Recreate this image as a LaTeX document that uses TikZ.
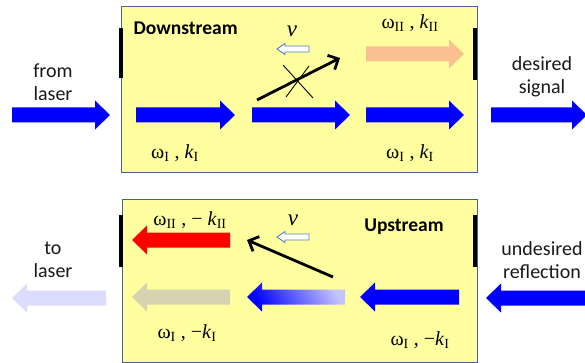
\documentclass[tikz,border=0pt]{standalone}
\usepackage{fontspec}
\setmainfont{Liberation Serif}
\newfontfamily\calib{Carlito}
\usetikzlibrary{arrows.meta}
\definecolor{boxfill}{RGB}{255,255,160}
\definecolor{boxline}{RGB}{70,100,145}
\definecolor{pblue}{RGB}{0,0,255}
\definecolor{porange}{RGB}{250,192,144}
\definecolor{pred}{RGB}{255,0,0}
\definecolor{pgray}{RGB}{215,211,176}
\definecolor{plav}{RGB}{220,220,255}
\definecolor{pgrad}{RGB}{195,195,255}
\definecolor{vline}{RGB}{79,129,189}
\newcommand\blockR[4]{\fill[#4] (#1,#3-7.5) -- (#2-15,#3-7.5) -- (#2-15,#3-14.5) -- (#2,#3) -- (#2-15,#3+14.5) -- (#2-15,#3+7.5) -- (#1,#3+7.5) -- cycle;}
\newcommand\blockL[4]{\fill[#4] (#2,#3-7.5) -- (#1+15,#3-7.5) -- (#1+15,#3-14.5) -- (#1,#3) -- (#1+15,#3+14.5) -- (#1+15,#3+7.5) -- (#2,#3+7.5) -- cycle;}
\newcommand\hollowL[3]{\draw[vline,fill=white,line width=0.9pt] (#2,#3-3) -- (#1+8,#3-3) -- (#1+8,#3-5.5) -- (#1,#3) -- (#1+8,#3+5.5) -- (#1+8,#3+3) -- (#2,#3+3) -- cycle;}
\tikzset{
  panel/.style={draw=boxline,fill=boxfill,line width=1pt},
  mirror/.style={line width=4pt,black},
  sidelbl/.style={font=\calib\fontsize{20}{23}\selectfont,align=center,text=black!90},
  headlbl/.style={font=\calib\bfseries\fontsize{19.5}{22}\selectfont},
  wlbl/.style={font=\fontsize{20}{22}\selectfont},
  vlbl/.style={font=\itshape\fontsize{23}{24}\selectfont},
  scat/.style={line width=2.8pt,-{Straight Barb[length=8pt,width=16pt,line width=2.8pt]}},
  cross/.style={line width=0.9pt}
}
\begin{document}
\begin{tikzpicture}[x=1pt,y=-1pt]
\useasboundingbox (0,0) rectangle (585,363);
% panels
\draw[panel] (121,7) rectangle (477,173);
\draw[panel] (122,199) rectangle (477,362);
\draw[mirror] (121,28) -- (121,78);
\draw[mirror] (475,28) -- (475,80);
\draw[mirror] (121,215) -- (121,267);
\draw[mirror] (475,215) -- (475,267);
% top arrows
\blockR{12}{110}{115}{pblue}
\blockR{136}{235}{115}{pblue}
\blockR{252}{350}{115}{pblue}
\blockR{366}{464}{115}{pblue}
\blockR{491}{587}{115}{pblue}
\blockR{366}{464}{54}{porange}
\hollowL{277}{309}{49}
% bottom arrows
\blockL{132}{230}{240}{pred}
\blockL{132}{230}{297}{pgray}
\shade[left color=pgrad,right color=pblue,shading angle=-60] (345,289.5) -- (262,289.5) -- (262,282.5) -- (247,297) -- (262,311.5) -- (262,304.5) -- (345,304.5) -- cycle;
\blockL{360}{459}{297}{pblue}
\blockL{12}{106}{298}{plav}
\blockL{486}{587}{298}{pblue}
\hollowL{277}{309}{237}
% scattering connectors
\coordinate (s1) at (257,100);
\coordinate (s2) at (340,58);
\draw[scat] (s1) -- (s2);
\coordinate (c1) at (283,65);
\coordinate (c2) at (313,98);
\coordinate (c3) at (286,97);
\coordinate (c4) at (309,66);
\draw[cross] (c1) -- (c2);
\draw[cross] (c3) -- (c4);
\coordinate (b1) at (333,277);
\coordinate (b2) at (247,240);
\draw[scat] (b1) -- (b2);
% labels
\node[headlbl,anchor=west] (down) at (130,28) {Downstream};
\node[headlbl] (up) at (404,227) {Upstream};
\node[vlbl] (v1) at (292,31) {v};
\node[vlbl] (v2) at (293,220) {v};
\node[wlbl] (w1) at (410,23) {ω\textsubscript{II} , \textit{k}\textsubscript{II}};
\node[wlbl] (w2) at (175,153) {ω\textsubscript{I} , \textit{k}\textsubscript{I}};
\node[wlbl] (w3) at (410,153) {ω\textsubscript{I} , \textit{k}\textsubscript{I}};
\node[wlbl] (w4) at (190,220) {ω\textsubscript{II} , − \textit{k}\textsubscript{II}};
\node[wlbl] (w5) at (187,333) {ω\textsubscript{I} , −\textit{k}\textsubscript{I}};
\node[wlbl] (w6) at (420,340) {ω\textsubscript{I} , −\textit{k}\textsubscript{I}};
\node[sidelbl] (from) at (53,82) {from\\laser};
\node[sidelbl] (des) at (542,77) {desired\\signal};
\node[sidelbl] (to) at (53,260) {to\\laser};
\node[sidelbl] (und) at (542,260) {undesired\\reflection};
\end{tikzpicture}
\end{document}
